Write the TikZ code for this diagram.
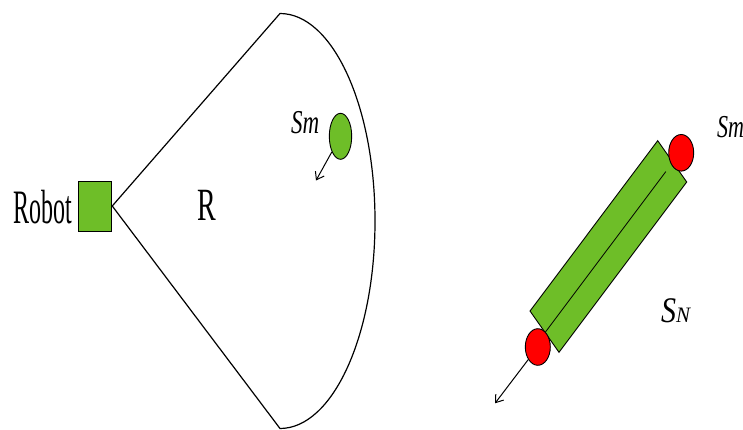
\documentclass[tikz,border=0pt]{standalone}
\usepackage{graphicx}
\usepackage{fontspec}
\setmainfont{Liberation Serif}
\usetikzlibrary{arrows.meta,shapes.geometric}
\definecolor{objgreen}{RGB}{110,190,40}
\begin{document}
\begin{tikzpicture}[x=1pt,y=-1pt,
  lbl/.style={inner sep=0pt, anchor=base west},
  greenfill/.style={fill=objgreen, draw=black, line width=0.9pt},
  redball/.style={ellipse, fill=red, draw=black, line width=0.9pt, inner sep=0pt, minimum width=25pt, minimum height=36.6pt},
  edgeline/.style={line width=1.2pt},
  arr/.style={line width=1pt, -{Straight Barb[length=7pt,width=10pt]}}]
\useasboundingbox (0,0) rectangle (743,430);

% left: robot and sensing sector
\node[greenfill, rectangle, minimum width=33pt, minimum height=50pt, inner sep=0pt] (robot) at (95.3,206) {};
\node[lbl] (robotlbl) at (13,223) {\fontsize{24}{24}\selectfont\scalebox{1}[2]{Robot}};
\coordinate (top) at (280,13.5);
\coordinate (bot) at (280,428.5);
\coordinate (mid) at (375,221);
\draw[edgeline] (robot.east) -- (top) .. controls (332.5,13.5) and (375,105.8) .. (mid)
  .. controls (375,336.2) and (332.5,428.5) .. (bot) -- (robot.east);
\node[lbl] (rlbl) at (197,221) {\fontsize{28}{28}\selectfont\scalebox{1}[1.65]{R}};

\node[ellipse, greenfill, inner sep=0pt, minimum width=22.4pt, minimum height=46pt] (sm) at (340.5,136.3) {};
\coordinate (smtip) at (316,180.5);
\draw[arr] (sm) -- (smtip);
\node[lbl] (smlbl) at (291,134) {\fontsize{23}{23}\selectfont\scalebox{1}[1.45]{\itshape Sm}};

% right: elongated object
\coordinate (T) at (657.7,140.7);
\coordinate (Rc) at (686.7,182);
\coordinate (B) at (559,352.3);
\coordinate (L) at (530,311);
\draw[greenfill] (T) -- (Rc) -- (B) -- (L) -- cycle;
\coordinate (c1) at (665.8,171.6);
\coordinate (c2) at (545.1,332.5);
\draw[line width=0.8pt] (c1) -- (c2);
\node[redball] (rtop) at (681.2,152.8) {};
\node[redball] (rbot) at (537.8,347) {};
\coordinate (rtip) at (495,403.3);
\draw[arr] (rbot) -- (rtip);
\node[lbl] (smlbl2) at (717,138) {\fontsize{22}{22}\selectfont\scalebox{1}[1.45]{\itshape Sm}};
\node[lbl] (snlbl) at (661,322) {\itshape\fontsize{30}{30}\selectfont\scalebox{1}[1.2]{S}\fontsize{21}{21}\selectfont\scalebox{1}[1.05]{N}};
\end{tikzpicture}
\end{document}
